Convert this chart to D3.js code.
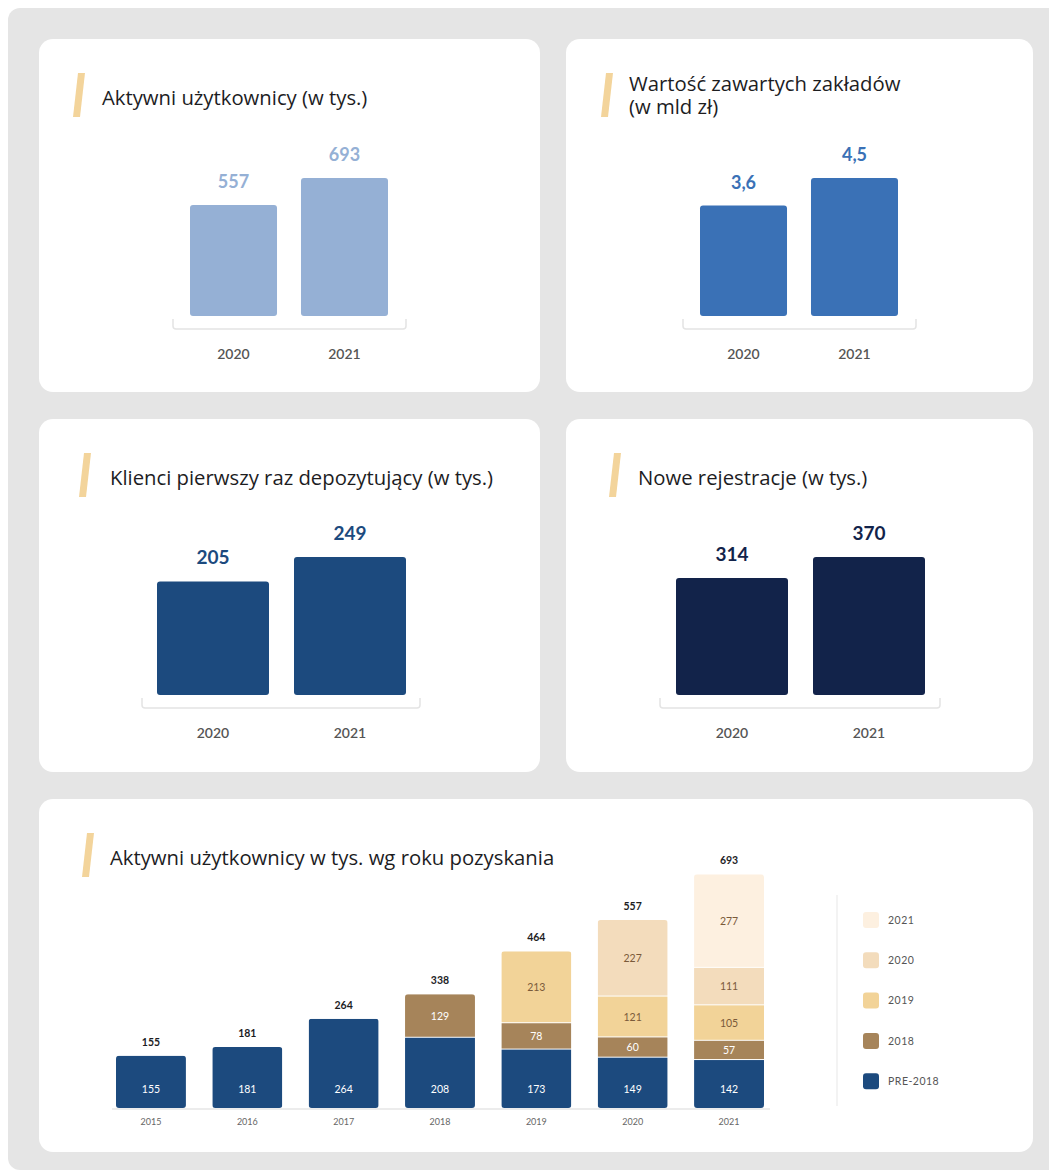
<!DOCTYPE html>
<html>
<head>
<meta charset="utf-8">
<script src="https://cdn.jsdelivr.net/npm/d3@7"></script>
<style>
  html, body { margin: 0; padding: 0; background: #fff; }
  svg { display: block; font-family: "Lato", "Noto Sans", sans-serif; }
</style>
</head>
<body>
<svg id="chart" width="1049" height="1174"></svg>
<script>
// small cards: two years each
var pairYears = ['2020', '2021'];
var activeUsers = [557, 693];
var activeUsersLabels = ['557', '693'];
var betValue = [3.6, 4.5];
var betValueLabels = ['3,6', '4,5'];
var firstDeposit = [205, 249];
var firstDepositLabels = ['205', '249'];
var newRegs = [314, 370];
var newRegsLabels = ['314', '370'];

// stacked chart: active users by acquisition year
var cohortYears = ['2015', '2016', '2017', '2018', '2019', '2020', '2021'];
var cohortKeys = ['pre2018', 'y2018', 'y2019', 'y2020', 'y2021'];
var cohortNames = ['PRE-2018', '2018', '2019', '2020', '2021'];
var pre2018 = [155, 181, 264, 208, 173, 149, 142];
var y2018 = [0, 0, 0, 129, 78, 60, 57];
var y2019 = [0, 0, 0, 0, 213, 121, 105];
var y2020 = [0, 0, 0, 0, 0, 227, 111];
var y2021 = [0, 0, 0, 0, 0, 0, 277];
var cohortTotals = [155, 181, 264, 338, 464, 557, 693];

var cohortColors = ['#1c4a7e', '#a6845a', '#f2d398', '#f3dcbc', '#fdf0e0'];
var cohortText = ['#ffffff', '#ffffff', '#7a5a3a', '#7a5a3a', '#7a5a3a'];
var accent = '#f3d49b';

var svg = d3.select('#chart');

// grey page panel
svg.append('rect')
    .attr('x', 8).attr('y', 8)
    .attr('width', 1060).attr('height', 1162)
    .attr('rx', 12)
    .attr('fill', '#e5e5e5');

function card(x, y, w, h) {
    svg.append('rect')
        .attr('x', x).attr('y', y)
        .attr('width', w).attr('height', h)
        .attr('rx', 14)
        .attr('fill', '#ffffff');
}

function slash(x, y) {
    svg.append('path')
        .attr('d', 'M' + (x + 5) + ',' + y + 'L' + (x + 12) + ',' + y +
            'L' + (x + 7) + ',' + (y + 44) + 'L' + x + ',' + (y + 44) + 'Z')
        .attr('fill', accent);
}

function title(x, y, lines, size) {
    var t = svg.append('text')
        .attr('x', x).attr('y', y)
        .attr('font-size', size)
        .attr('font-family', '"Open Sans", sans-serif')
        .attr('fill', '#1d1d1f');
    lines.forEach(function (l, i) {
        t.append('tspan').attr('x', x).attr('dy', i ? 23 : 0).text(l);
    });
}

function pairChart(cfg) {
    card(cfg.cx, cfg.cy, cfg.cw, 353);
    slash(cfg.sx, cfg.cy + 34);
    title(cfg.tx, cfg.ty, cfg.title, 20.3);

    var x = d3.scaleBand()
        .domain(pairYears)
        .range(cfg.xr)
        .paddingInner(cfg.pad)
        .paddingOuter(0);
    var y = d3.scaleLinear()
        .domain([0, d3.max(cfg.values)])
        .range([cfg.base, cfg.base - 138]);

    var g = svg.append('g');
    g.selectAll('rect.bar')
        .data(cfg.values)
        .enter()
        .append('rect')
        .attr('class', 'bar')
        .attr('x', function (d, i) { return x(pairYears[i]); })
        .attr('y', function (d) { return y(d); })
        .attr('width', x.bandwidth())
        .attr('height', function (d) { return cfg.base - y(d); })
        .attr('rx', 3)
        .attr('fill', cfg.color);

    g.selectAll('text.val')
        .data(cfg.values)
        .enter()
        .append('text')
        .attr('class', 'val')
        .attr('x', function (d, i) { return x(pairYears[i]) + x.bandwidth() / 2; })
        .attr('y', function (d) { return y(d) - 17; })
        .attr('text-anchor', 'middle')
        .attr('font-size', cfg.valSize)
        .attr('font-weight', 700)
        .attr('fill', cfg.labelColor)
        .text(function (d, i) { return cfg.labels[i]; });

    // bracket under the bars
    var l = cfg.bx[0], r = cfg.bx[1], by = cfg.base + 13;
    g.append('path')
        .attr('d', 'M' + l + ',' + (by - 10) + 'V' + (by - 3) + 'Q' + l + ',' + by + ' ' + (l + 3) + ',' + by +
            'H' + (r - 3) + 'Q' + r + ',' + by + ' ' + r + ',' + (by - 3) + 'V' + (by - 10))
        .attr('fill', 'none')
        .attr('stroke', '#e4e4e4')
        .attr('stroke-width', 1.5);

    g.selectAll('text.year')
        .data(pairYears)
        .enter()
        .append('text')
        .attr('class', 'year')
        .attr('x', function (d) { return x(d) + x.bandwidth() / 2; })
        .attr('y', cfg.base + 43)
        .attr('text-anchor', 'middle')
        .attr('font-size', 14)
        .attr('font-weight', 600)
        .attr('fill', '#555555')
        .text(function (d) { return d; });
}

pairChart({
    cx: 39, cy: 39, cw: 501, sx: 73, tx: 102, ty: 105,
    title: ['Aktywni użytkownicy (w tys.)'],
    values: activeUsers, labels: activeUsersLabels,
    xr: [190, 388], pad: 0.216, base: 316, bx: [173, 406],
    color: '#95b0d5', labelColor: '#95b0d5', valSize: 18
});
pairChart({
    cx: 566, cy: 39, cw: 467, sx: 601, tx: 629, ty: 91,
    title: ['Wartość zawartych zakładów', '(w mld zł)'],
    values: betValue, labels: betValueLabels,
    xr: [700, 898], pad: 0.216, base: 316, bx: [683, 916],
    color: '#3a71b6', labelColor: '#3a71b6', valSize: 18
});
pairChart({
    cx: 39, cy: 419, cw: 501, sx: 79, tx: 110, ty: 485,
    title: ['Klienci pierwszy raz depozytujący (w tys.)'],
    values: firstDeposit, labels: firstDepositLabels,
    xr: [157, 406], pad: 0.1825, base: 695, bx: [142, 420],
    color: '#1c4a7e', labelColor: '#1c4a7e', valSize: 19
});
pairChart({
    cx: 566, cy: 419, cw: 467, sx: 609, tx: 638, ty: 485,
    title: ['Nowe rejestracje (w tys.)'],
    values: newRegs, labels: newRegsLabels,
    xr: [676, 925], pad: 0.1825, base: 695, bx: [660, 940],
    color: '#12234a', labelColor: '#12234a', valSize: 19
});

// ---- stacked chart ----
card(39, 799, 994, 353);
slash(82, 833);
title(110, 865, ['Aktywni użytkownicy w tys. wg roku pozyskania'], 20.3);

var rows = cohortYears.map(function (yr, i) {
    return { year: yr, pre2018: pre2018[i], y2018: y2018[i], y2019: y2019[i], y2020: y2020[i], y2021: y2021[i], total: cohortTotals[i] };
});
var series = d3.stack().keys(cohortKeys)(rows);

var base = 1108;
var sx = d3.scaleBand().domain(cohortYears).range([116, 764]).paddingInner(0.274).paddingOuter(0);
var sy = d3.scaleLinear().domain([0, 693]).range([base, base - 234]);

var defs = svg.append('defs');
rows.forEach(function (r, i) {
    defs.append('clipPath').attr('id', 'clip' + i)
        .append('rect')
        .attr('x', sx(r.year)).attr('y', sy(d3.sum(cohortKeys, function (k) { return r[k]; })))
        .attr('width', sx.bandwidth())
        .attr('height', base - sy(d3.sum(cohortKeys, function (k) { return r[k]; })))
        .attr('rx', 3);
});

var sg = svg.append('g');
series.forEach(function (s, si) {
    var layer = sg.append('g');
    layer.selectAll('rect')
        .data(s.filter(function (d) { return d[1] > d[0]; }))
        .enter()
        .append('rect')
        .attr('clip-path', function (d) { return 'url(#clip' + cohortYears.indexOf(d.data.year) + ')'; })
        .attr('x', function (d) { return sx(d.data.year); })
        .attr('y', function (d) { return sy(d[1]); })
        .attr('width', sx.bandwidth())
        .attr('height', function (d) { return sy(d[0]) - sy(d[1]) - (si === 0 ? 0 : 1); })
        .attr('fill', cohortColors[si]);
    layer.selectAll('text')
        .data(s.filter(function (d) { return d[1] > d[0]; }))
        .enter()
        .append('text')
        .attr('x', function (d) { return sx(d.data.year) + sx.bandwidth() / 2; })
        .attr('y', function (d) { return si === 0 ? base - 19 : (sy(d[0]) + sy(d[1])) / 2; })
        .attr('dy', '0.35em')
        .attr('text-anchor', 'middle')
        .attr('font-size', 10.5)
        .attr('fill', cohortText[si])
        .text(function (d) { return d[1] - d[0]; });
});

sg.selectAll('text.total')
    .data(rows)
    .enter()
    .append('text')
    .attr('class', 'total')
    .attr('x', function (d) { return sx(d.year) + sx.bandwidth() / 2; })
    .attr('y', function (d) { return sy(d3.sum(cohortKeys, function (k) { return d[k]; })) - 10; })
    .attr('text-anchor', 'middle')
    .attr('font-size', 10.5)
    .attr('font-weight', 700)
    .attr('fill', '#1d1d1f')
    .text(function (d) { return d.total; });

var xAxis = sg.append('g')
    .attr('transform', 'translate(0,' + (base + 1) + ')')
    .call(d3.axisBottom(sx).tickSize(0).tickPadding(10));
xAxis.select('.domain').remove();
xAxis.selectAll('text')
    .attr('font-size', 9)
    .attr('font-family', '"Lato", sans-serif')
    .attr('fill', '#666666');
sg.append('line')
    .attr('x1', 112).attr('x2', 770)
    .attr('y1', base + 1).attr('y2', base + 1)
    .attr('stroke', '#ececec')
    .attr('stroke-width', 2);

// separator + legend
svg.append('line')
    .attr('x1', 837).attr('x2', 837)
    .attr('y1', 895).attr('y2', 1106)
    .attr('stroke', '#efefef')
    .attr('stroke-width', 1.5);

var legendOrder = [4, 3, 2, 1, 0];
var lg = svg.append('g').selectAll('g')
    .data(legendOrder)
    .enter()
    .append('g')
    .attr('transform', function (d, i) { return 'translate(863,' + (912 + i * 40.3) + ')'; });
lg.append('rect')
    .attr('width', 16).attr('height', 16).attr('rx', 3)
    .attr('fill', function (d) { return cohortColors[d]; });
lg.append('text')
    .attr('x', 25).attr('y', 8).attr('dy', '0.35em')
    .attr('font-size', 10.5)
    .attr('letter-spacing', 0.5)
    .attr('fill', '#555555')
    .text(function (d) { return cohortNames[d]; });
</script>
</body>
</html>
